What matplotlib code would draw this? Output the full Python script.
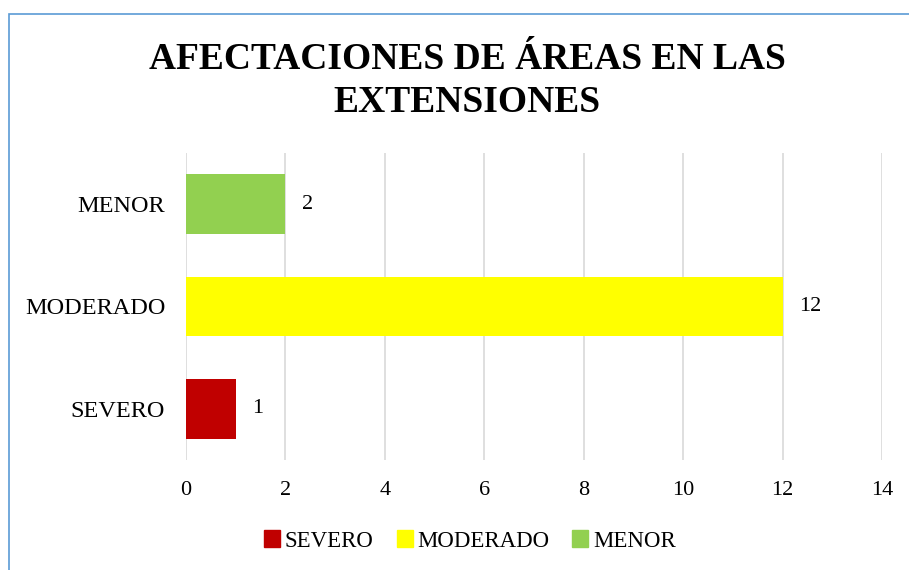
import matplotlib.pyplot as plt
from matplotlib.patches import Rectangle

# --- Datos ---
categorias = ["SEVERO", "MODERADO", "MENOR"]
valores = [1, 12, 2]
colores = ["#C00000", "#FFFF00", "#92D050"]
ticks_x = [0, 2, 4, 6, 8, 10, 12, 14]
titulo = "AFECTACIONES DE ÁREAS EN LAS\nEXTENSIONES"

plt.rcParams["font.family"] = ["Liberation Serif", "DejaVu Serif"]

fig = plt.figure(figsize=(9.09, 5.70), dpi=100)
ax = fig.add_axes([186 / 909, 1 - 460 / 570, (882 - 186) / 909, (460 - 153) / 570])

y = list(range(len(categorias)))
bars = ax.barh(y, valores, height=0.58, color=colores, zorder=3)

ax.set_xlim(0, 14)
ax.set_ylim(-0.5, len(categorias) - 0.5)
ax.set_xticks(ticks_x)
ax.set_yticks(y)
ax.set_yticklabels(categorias, fontsize=17.5)
ax.tick_params(axis="x", labelsize=16, length=0, pad=15)
ax.tick_params(axis="y", length=0, pad=15)
ax.grid(axis="x", color="#d9d9d9", linewidth=1.2, zorder=0)
for side in ax.spines:
    ax.spines[side].set_visible(False)

for bar, v in zip(bars, valores):
    ax.annotate(str(v), (bar.get_width(), bar.get_y() + bar.get_height() / 2),
                xytext=(12, 0), textcoords="offset points",
                va="center", ha="left", fontsize=16)

fig.text(0.514, 1 - 81 / 570, titulo, ha="center", va="center",
         fontsize=27, fontweight="bold", linespacing=1.28)

handles = [Rectangle((0, 0), 1, 1, color=c) for c in colores]
fig.legend(handles, categorias, loc="center", bbox_to_anchor=(0.517, 1 - 541 / 570),
           ncol=3, frameon=False, fontsize=16.5, handlelength=0.7, handleheight=0.7,
           handletextpad=0.2, columnspacing=1.0)

# borde del área del gráfico
fig.patches.append(Rectangle((9 / 909, -0.2), 1.2, 1.2 - 14 / 570, transform=fig.transFigure,
                             fill=False, edgecolor="#5B9BD5", linewidth=1.2))

fig.savefig("out.png", dpi=100)
